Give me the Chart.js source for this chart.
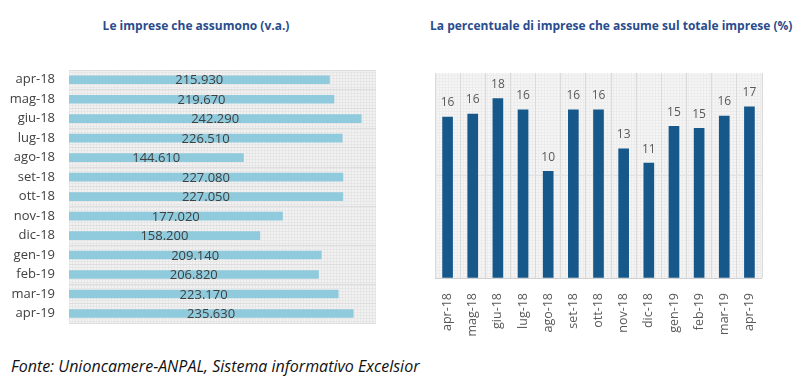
<!DOCTYPE html>
<html>
<head>
<meta charset="utf-8">
<script src="https://cdn.jsdelivr.net/npm/chart.js@4"></script>
<style>
  body { margin: 0; background: #fff; width: 800px; height: 382px; position: relative; overflow: hidden; font-family: "Open Sans", sans-serif; }
  .title { position: absolute; top: 17px; font-weight: bold; font-size: 12px; color: #294c8c; text-align: center; white-space: nowrap; }
  #leftBox { position: absolute; left: 0; top: 0; width: 400px; height: 345px; }
  #rightBox { position: absolute; left: 400px; top: 0; width: 400px; height: 345px; }
  #source { position: absolute; left: 11px; top: 355px; font-style: italic; font-size: 16px; color: #111; white-space: nowrap; }
</style>
</head>
<body>
<div class="title" style="left:46px;width:300px;">Le imprese che assumono (v.a.)</div>
<div class="title" style="left:430px;width:352px;">La percentuale di imprese che assume sul totale imprese (%)</div>
<div id="leftBox"><canvas id="firmsChart" width="400" height="345"></canvas></div>
<div id="rightBox"><canvas id="shareChart" width="400" height="345"></canvas></div>
<div id="source">Fonte: Unioncamere-ANPAL, Sistema informativo Excelsior</div>

<script>
// Data
const months = ['apr-18', 'mag-18', 'giu-18', 'lug-18', 'ago-18', 'set-18', 'ott-18',
                'nov-18', 'dic-18', 'gen-19', 'feb-19', 'mar-19', 'apr-19'];
const hiringFirms = [215930, 219670, 242290, 226510, 144610, 227080, 227050,
                     177020, 158200, 209140, 206820, 223170, 235630];
const hiringShare = [15.7, 16.0, 17.5, 16.4, 10.4, 16.4, 16.4, 12.6, 11.2, 14.8, 14.6, 15.8, 16.7];

// Thousands separator with a dot, Italian style
function formatThousands(v) {
    return String(v).replace(/\B(?=(\d{3})+(?!\d))/g, '.');
}

// Fine hatched texture used as plot background
function makePattern(base, line) {
    const c = document.createElement('canvas');
    c.width = 3; c.height = 3;
    const g = c.getContext('2d');
    g.fillStyle = base;
    g.fillRect(0, 0, 3, 3);
    g.fillStyle = line;
    g.fillRect(0, 0, 3, 1);
    g.fillRect(0, 0, 1, 3);
    return g.createPattern(c, 'repeat');
}

const plotBackground = {
    id: 'plotBackground',
    beforeDraw(chart, args, opts) {
        const { ctx, chartArea } = chart;
        ctx.save();
        ctx.fillStyle = makePattern(opts.base, opts.line);
        ctx.fillRect(chartArea.left, chartArea.top, chartArea.width, chartArea.height);
        ctx.restore();
    }
};

// Value labels drawn from the bar elements
const barLabels = {
    id: 'barLabels',
    afterDatasetsDraw(chart, args, opts) {
        const { ctx } = chart;
        const meta = chart.getDatasetMeta(0);
        const values = chart.data.datasets[0].data;
        ctx.save();
        ctx.font = opts.font;
        ctx.fillStyle = opts.color;
        ctx.textAlign = 'center';
        ctx.textBaseline = 'middle';
        meta.data.forEach((bar, i) => {
            const text = opts.format(values[i]);
            if (opts.mode === 'inside') {
                ctx.fillText(text, (bar.x + bar.base) / 2, bar.y + 1);
            } else {
                ctx.fillText(text, bar.x, bar.y - 14);
            }
        });
        ctx.restore();
    }
};

// Left chart: number of hiring firms
new Chart(document.getElementById('firmsChart').getContext('2d'), {
    type: 'bar',
    data: {
        labels: months,
        datasets: [{
            data: hiringFirms,
            backgroundColor: '#8fcadd',
            barThickness: 8
        }]
    },
    options: {
        indexAxis: 'y',
        responsive: false,
        animation: false,
        layout: { padding: { top: 70, right: 24, bottom: 12, left: 0 } },
        scales: {
            x: { display: false, min: 0, max: 254500 },
            y: {
                grid: { offset: true, color: '#dedede', drawTicks: false },
                border: { display: false },
                ticks: { color: '#404040', font: { family: 'Open Sans', size: 13 }, padding: 14 },
                afterFit(scale) { scale.width = 69; }
            }
        },
        plugins: {
            legend: { display: false },
            tooltip: { enabled: false },
            plotBackground: { base: '#f2f2f2', line: '#e6e6e6' },
            barLabels: {
                mode: 'inside',
                font: '13px "Open Sans"',
                color: '#404040',
                format: formatThousands
            }
        }
    },
    plugins: [plotBackground, barLabels]
});

// Right chart: share of firms that hire (%)
new Chart(document.getElementById('shareChart').getContext('2d'), {
    type: 'bar',
    data: {
        labels: months,
        datasets: [{
            data: hiringShare,
            backgroundColor: '#16588a',
            barThickness: 10
        }]
    },
    options: {
        responsive: false,
        animation: false,
        layout: { padding: { top: 73, right: 38, bottom: 0, left: 0 } },
        scales: {
            x: {
                grid: { offset: true, color: '#dadada', drawTicks: false },
                border: { display: false },
                ticks: {
                    color: '#595959',
                    font: { family: 'Open Sans', size: 12.5 },
                    minRotation: 90,
                    maxRotation: 90,
                    padding: 15
                },
                afterFit(scale) { scale.height = 67; }
            },
            y: {
                min: 0,
                max: 20,
                ticks: { display: false, stepSize: 10 },
                border: { display: false },
                grid: {
                    drawTicks: false,
                    color: ctx => ctx.tick.value === 0 ? '#cfcfcf' : (ctx.tick.value === 10 ? '#e2e2e2' : 'rgba(0,0,0,0)')
                },
                afterFit(scale) { scale.width = 35; }
            }
        },
        plugins: {
            legend: { display: false },
            tooltip: { enabled: false },
            plotBackground: { base: '#f5f5f5', line: '#ececec' },
            barLabels: {
                mode: 'above',
                font: '12px "Open Sans"',
                color: '#595959',
                format: v => String(Math.round(v))
            }
        }
    },
    plugins: [plotBackground, barLabels]
});
</script>
</body>
</html>
